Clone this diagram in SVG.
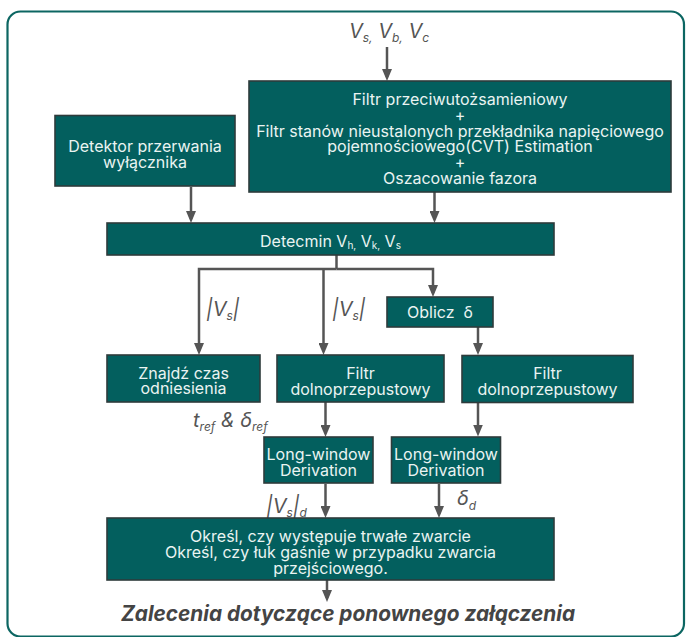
<svg xmlns="http://www.w3.org/2000/svg" width="686" height="637" viewBox="0 0 686 637">
<defs>
<style>
.frame{fill:#ffffff;stroke:#0c6662;stroke-width:2.2}
.box{fill:#035f5e;stroke:#2e3b3b;stroke-width:1.6}
.t{font-family:Inter,"Liberation Sans",sans-serif;font-size:16px;fill:#eaf4f2;text-anchor:middle}
.lbl{font-family:Inter,"Liberation Sans",sans-serif;font-style:italic;fill:#555555;font-size:20px}
.s{font-size:12px}
.con{fill:none;stroke:#555555;stroke-width:2.5;stroke-linejoin:miter}
.title{font-family:Inter,"Liberation Sans",sans-serif;font-weight:bold;font-style:italic;font-size:20.8px;fill:#444444}
</style>
<marker id="ah" viewBox="0 0 12 10" refX="8" refY="5" markerWidth="12" markerHeight="10" markerUnits="userSpaceOnUse" orient="auto"><path d="M0,0 L12,5 L0,10 z" fill="#555555"/></marker>
</defs>
<rect x="0" y="0" width="686" height="637" fill="#ffffff"/>
<rect class="frame" x="7.5" y="11.5" width="676.5" height="625" rx="13"/>

<g id="connectors">
<path class="con" d="M387,47 V77" marker-end="url(#ah)"/>
<path class="con" d="M191,187 V219" marker-end="url(#ah)"/>
<path class="con" d="M434.5,192 V219" marker-end="url(#ah)"/>
<path class="con" d="M336.5,255 V269"/>
<path class="con" d="M336.5,269 H199 V351" marker-end="url(#ah)"/>
<path class="con" d="M323.5,269 V351" marker-end="url(#ah)"/>
<path class="con" d="M336.5,269 H433 V293" marker-end="url(#ah)"/>
<path class="con" d="M478,327 V351" marker-end="url(#ah)"/>
<path class="con" d="M325.5,402 V433" marker-end="url(#ah)"/>
<path class="con" d="M478,402 V432.5" marker-end="url(#ah)"/>
<path class="con" d="M325.5,484 V514" marker-end="url(#ah)"/>
<path class="con" d="M439,484 V514" marker-end="url(#ah)"/>
<path class="con" d="M327,580 V598" marker-end="url(#ah)"/>
</g>

<g id="labels">
<text class="lbl" x="389" y="38" text-anchor="middle" font-size="21">V<tspan class="s" dy="4">s,</tspan><tspan dy="-4"> V</tspan><tspan class="s" dy="4">b,</tspan><tspan dy="-4"> V</tspan><tspan class="s" dy="4">c</tspan></text>
<text class="lbl" x="206" y="316">|V<tspan class="s" dy="4">s</tspan><tspan dy="-4">|</tspan></text>
<text class="lbl" x="332" y="316">|V<tspan class="s" dy="4">s</tspan><tspan dy="-4">|</tspan></text>
<text class="lbl" x="193" y="427">t<tspan class="s" dy="4">ref</tspan><tspan dy="-4"> &amp; δ</tspan><tspan class="s" dy="4">ref</tspan></text>
<text class="lbl" x="266" y="513">|V<tspan class="s" dy="4">s</tspan><tspan dy="-4">|</tspan><tspan class="s" dy="4">d</tspan></text>
<text class="lbl" x="457" y="505">δ<tspan class="s" dy="5">d</tspan></text>
<text class="title" x="121" y="621">Zalecenia dotyczące ponownego załączenia</text>
</g>

<g id="filtr-main">
<rect class="box" x="249" y="81" width="422" height="111"/>
<text class="t" x="460" y="105">Filtr przeciwutożsamieniowy<tspan x="460" dy="15.8">+</tspan><tspan x="460" dy="15.8">Filtr stanów nieustalonych przekładnika napięciowego</tspan><tspan x="460" dy="15.8">pojemnościowego(CVT) Estimation</tspan><tspan x="460" dy="15.8">+</tspan><tspan x="460" dy="15.8">Oszacowanie fazora</tspan></text>
</g>

<g id="detektor">
<rect class="box" x="55" y="115.5" width="180" height="70.5"/>
<text class="t" x="145" y="151.5">Detektor przerwania<tspan x="145" dy="16.5">wyłącznika</tspan></text>
</g>

<g id="detecmin">
<rect class="box" x="107" y="223" width="447" height="32"/>
<text class="t" x="330.5" y="247">Detecmin V<tspan font-size="10" dy="2">h,</tspan><tspan dy="-2"> V</tspan><tspan font-size="10" dy="2">k,</tspan><tspan dy="-2"> V</tspan><tspan font-size="10" dy="2">s</tspan></text>
</g>

<g id="oblicz">
<rect class="box" x="387" y="297" width="106" height="30"/>
<text class="t" x="440" y="318" style="white-space:pre">Oblicz  δ</text>
</g>

<g id="znajdz">
<rect class="box" x="107" y="355" width="153" height="47"/>
<text class="t" x="183.5" y="378.5">Znajdź czas<tspan x="183.5" dy="15.5">odniesienia</tspan></text>
</g>

<g id="filtr-dolno-1">
<rect class="box" x="277" y="355" width="167" height="47"/>
<text class="t" x="360.5" y="378.5">Filtr<tspan x="360.5" dy="16">dolnoprzepustowy</tspan></text>
</g>

<g id="filtr-dolno-2">
<rect class="box" x="462" y="355.5" width="171" height="47"/>
<text class="t" x="547.5" y="378.5">Filtr<tspan x="547.5" dy="16">dolnoprzepustowy</tspan></text>
</g>

<g id="long-window-1">
<rect class="box" x="264" y="437" width="109" height="46"/>
<text class="t" x="318.5" y="459.5">Long-window<tspan x="318.5" dy="16.5">Derivation</tspan></text>
</g>

<g id="long-window-2">
<rect class="box" x="391.5" y="437" width="109" height="46"/>
<text class="t" x="446" y="459.5">Long-window<tspan x="446" dy="16.5">Derivation</tspan></text>
</g>

<g id="okresl">
<rect class="box" x="107" y="518" width="447" height="62"/>
<text class="t" x="330.5" y="541.5">Określ, czy występuje trwałe zwarcie<tspan x="330.5" dy="16">Określ, czy łuk gaśnie w przypadku zwarcia</tspan><tspan x="330.5" dy="16">przejściowego.</tspan></text>
</g>
</svg>
